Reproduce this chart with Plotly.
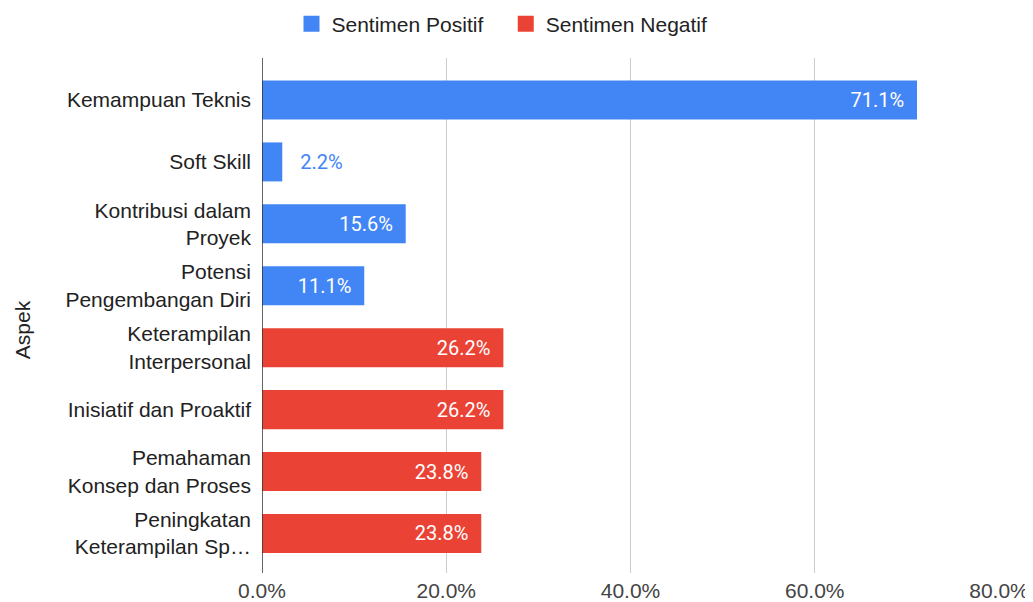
import plotly.graph_objects as go

categories = [
    "Kemampuan Teknis",
    "Soft Skill",
    "Kontribusi dalam<br>Proyek",
    "Potensi<br>Pengembangan Diri",
    "Keterampilan<br>Interpersonal",
    "Inisiatif dan Proaktif",
    "Pemahaman<br>Konsep dan Proses",
    "Peningkatan<br>Keterampilan Sp…",
]
positif = [71.1, 2.2, 15.6, 11.1, None, None, None, None]
negatif = [None, None, None, None, 26.2, 26.2, 23.8, 23.8]
series_names = ["Sentimen Positif", "Sentimen Negatif"]
x_ticks = [0, 20, 40, 60, 80]
x_tick_labels = ["0.0%", "20.0%", "40.0%", "60.0%", "80.0%"]

BLUE = "#4285F4"
RED = "#EA4335"
ARIAL = "Arial, 'Liberation Sans', sans-serif"
ROBOTO = "Roboto, Arial, sans-serif"
NB = "\u00a0"

# the page body adds an 8px margin, so the figure is drawn 8px smaller
W, H = 1025, 594
L, R, T, B = 254, 33.5, 50, 29
PW = W - L - R
PH = H - T - B


def small(v):
    return v is not None and v < 5


def labels(vals):
    out = []
    for v in vals:
        if v is None:
            out.append(None)
        elif small(v):
            out.append(f"{NB*3}{v:.1f}%")
        else:
            out.append(f"{v:.1f}%{NB*2}")
    return out


fig = go.Figure()
fig.add_trace(go.Bar(
    y=categories, x=positif, orientation="h", name=series_names[0],
    marker=dict(color=BLUE, line=dict(width=0)), width=0.63, showlegend=False,
    text=labels(positif),
    textposition=["outside" if small(v) else "inside" for v in positif],
    insidetextanchor="end",
    textfont=dict(family=ROBOTO, size=20,
                  color=[BLUE if small(v) else "white" for v in positif]),
    cliponaxis=False,
))
fig.add_trace(go.Bar(
    y=categories, x=negatif, orientation="h", name=series_names[1],
    marker=dict(color=RED, line=dict(width=0)), width=0.63, showlegend=False,
    text=labels(negatif), textposition="inside", insidetextanchor="end",
    textfont=dict(family=ROBOTO, size=20, color="white"),
))
# legend entries with larger square swatches
legend_pad = [NB * 3, ""]
for name, color, pad in zip(series_names, [BLUE, RED], legend_pad):
    fig.add_trace(go.Scatter(
        x=[None], y=[None], mode="markers", name=name + pad,
        marker=dict(symbol="square", size=16, color=color),
        hoverinfo="skip",
    ))

fig.update_layout(
    width=W, height=H,
    barmode="overlay",
    plot_bgcolor="white", paper_bgcolor="white",
    margin=dict(l=L, r=R, t=T, b=B, autoexpand=False),
    font=dict(family=ARIAL, size=20, color="#222222"),
    legend=dict(
        orientation="h", xref="container", yref="container",
        x=494 / W, xanchor="center", y=1 - 16 / H, yanchor="middle",
        font=dict(family=ARIAL, size=21, color="#222222"),
        traceorder="normal", itemsizing="trace",
    ),
    xaxis=dict(
        range=[0, 80], tickvals=x_ticks, ticktext=x_tick_labels,
        showgrid=True, gridcolor="#cccccc", gridwidth=1,
        zeroline=False, showline=False, ticks="", automargin=False,
        ticklabelstandoff=3,
        tickfont=dict(family=ARIAL, size=21, color="#444444"),
    ),
    yaxis=dict(
        categoryorder="array", categoryarray=categories,
        range=[7.638, -0.678],
        showgrid=False, zeroline=False, ticks="", showline=False,
        automargin=False, ticklabelstandoff=10,
        tickfont=dict(family=ARIAL, size=21, color="#222222"),
    ),
    annotations=[dict(
        text="Aspek", xref="paper", yref="paper",
        x=(14 - L) / PW, y=1 - (322 - T) / PH, xanchor="center", yanchor="middle",
        textangle=-90, showarrow=False,
        font=dict(family=ARIAL, size=21, color="#222222"),
    )],
    shapes=[dict(type="line", xref="x", yref="paper", x0=0, x1=0, y0=0, y1=1,
                 line=dict(color="#333333", width=1.5))],
)

fig.write_html("out.html")
